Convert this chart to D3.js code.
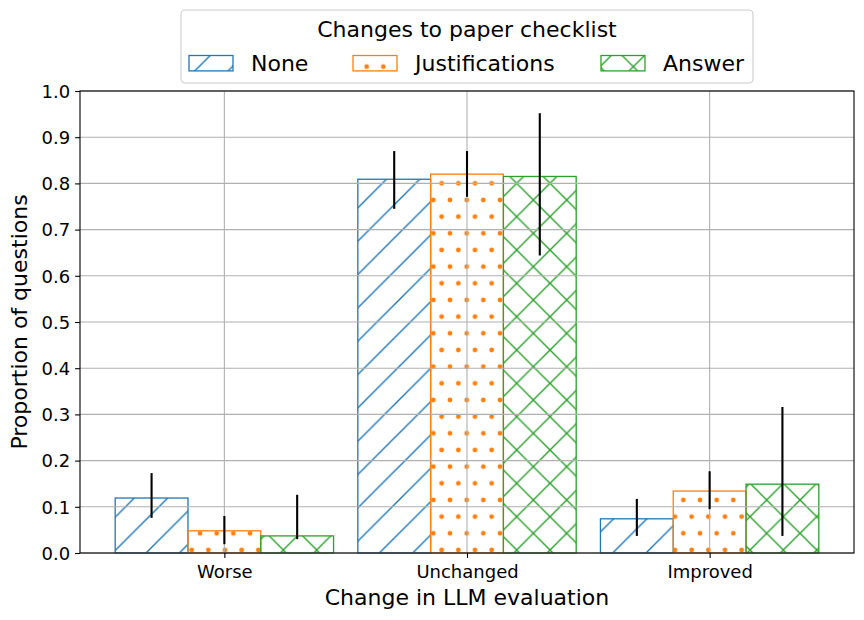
<!DOCTYPE html>
<html>
<head>
<meta charset="utf-8">
<script src="https://cdn.jsdelivr.net/npm/d3@7"></script>
<style>
  html, body { margin: 0; padding: 0; background: #fff; }
  svg { display: block; font-family: "DejaVu Sans", sans-serif; }
</style>
</head>
<body>
<svg id="chart" width="864" height="620"></svg>
<script>
// ---- data ----
const categories = ["Worse", "Unchanged", "Improved"];
const seriesNames = ["None", "Justifications", "Answer"];
const noneValues = [0.119, 0.809, 0.074];
const justificationsValues = [0.048, 0.820, 0.134];
const answerValues = [0.037, 0.815, 0.149];
const noneLow = [0.076, 0.745, 0.037];
const noneHigh = [0.173, 0.870, 0.117];
const justificationsLow = [0.019, 0.771, 0.095];
const justificationsHigh = [0.080, 0.870, 0.177];
const answerLow = [0.030, 0.644, 0.037];
const answerHigh = [0.126, 0.952, 0.316];
const yTicks = [0.0, 0.1, 0.2, 0.3, 0.4, 0.5, 0.6, 0.7, 0.8, 0.9, 1.0];
const legendTitle = "Changes to paper checklist";
const xLabel = "Change in LLM evaluation";
const yLabel = "Proportion of questions";

const series = [
  { name: seriesNames[0], values: noneValues, low: noneLow, high: noneHigh, color: "#1f77b4", pattern: "hatch-none" },
  { name: seriesNames[1], values: justificationsValues, low: justificationsLow, high: justificationsHigh, color: "#ff7f0e", pattern: "hatch-just" },
  { name: seriesNames[2], values: answerValues, low: answerLow, high: answerHigh, color: "#2ca02c", pattern: "hatch-answer" }
];

// ---- layout ----
const svg = d3.select("#chart");
const L = 80, R = 854, T = 91, B = 553;
const barW = 0.3;
const x = d3.scaleLinear().domain([-0.595, 2.595]).range([L, R]);
const y = d3.scaleLinear().domain([0, 1]).range([B, T]);

// ---- hatch patterns ----
const P = 100 / 3;
const defs = svg.append("defs");
const pN = defs.append("pattern").attr("id", "hatch-none").attr("patternUnits", "userSpaceOnUse")
  .attr("width", P).attr("height", P).attr("patternTransform", "translate(-1,0)");
[[0, P, P, 0], [-2, 2, 2, -2], [P - 2, P + 2, P + 2, P - 2]].forEach(s =>
  pN.append("line").attr("x1", s[0]).attr("y1", s[1]).attr("x2", s[2]).attr("y2", s[3])
    .attr("stroke", "#1f77b4").attr("stroke-width", 1.4));

const pA = defs.append("pattern").attr("id", "hatch-answer").attr("patternUnits", "userSpaceOnUse")
  .attr("width", P).attr("height", P);
[[0, P, P, 0], [-2, 2, 2, -2], [P - 2, P + 2, P + 2, P - 2],
 [0, 0, P, P], [-2, P - 2, 2, P + 2], [P - 2, -2, P + 2, 2]].forEach(s =>
  pA.append("line").attr("x1", s[0]).attr("y1", s[1]).attr("x2", s[2]).attr("y2", s[3])
    .attr("stroke", "#2ca02c").attr("stroke-width", 1.4));

const pJ = defs.append("pattern").attr("id", "hatch-just").attr("patternUnits", "userSpaceOnUse")
  .attr("width", P / 2).attr("height", P);
[[0, 0], [P / 2, 0], [0, P], [P / 2, P], [P / 4, P / 2]].forEach(c =>
  pJ.append("circle").attr("cx", c[0]).attr("cy", c[1]).attr("r", 2.4).attr("fill", "#ff7f0e"));

// ---- bars ----
const barsG = svg.append("g");
series.forEach((s, si) => {
  const off = (si - 1) * barW;
  barsG.selectAll(null).data(categories).enter().append("rect")
    .attr("x", (d, i) => x(i + off - barW / 2))
    .attr("y", (d, i) => y(s.values[i]))
    .attr("width", (d, i) => x(i + off + barW / 2) - x(i + off - barW / 2))
    .attr("height", (d, i) => y(0) - y(s.values[i]))
    .attr("fill", `url(#${s.pattern})`)
    .attr("stroke", s.color)
    .attr("stroke-width", 1.3);
});

// ---- grid (above bars, like matplotlib) ----
const grid = svg.append("g");
grid.selectAll(null).data(yTicks).enter().append("line")
  .attr("x1", L).attr("x2", R).attr("y1", d => y(d)).attr("y2", d => y(d))
  .attr("stroke", "#b0b0b0").attr("stroke-width", 1.1);
grid.selectAll(null).data(categories).enter().append("line")
  .attr("x1", (d, i) => x(i)).attr("x2", (d, i) => x(i)).attr("y1", T).attr("y2", B)
  .attr("stroke", "#b0b0b0").attr("stroke-width", 1.1);

// ---- error bars ----
const errG = svg.append("g");
series.forEach((s, si) => {
  const off = (si - 1) * barW;
  errG.selectAll(null).data(categories).enter().append("line")
    .attr("x1", (d, i) => x(i + off)).attr("x2", (d, i) => x(i + off))
    .attr("y1", (d, i) => y(s.low[i])).attr("y2", (d, i) => y(s.high[i]))
    .attr("stroke", "#000").attr("stroke-width", 2.1);
});

// ---- axes ----
const yAxis = d3.axisLeft(y).tickValues(yTicks).tickFormat(d3.format(".1f")).tickSize(4.9).tickPadding(4.9);
const yg = svg.append("g").attr("transform", `translate(${L},0)`).call(yAxis);
yg.select(".domain").remove();
yg.selectAll(".tick line").attr("stroke", "#000").attr("stroke-width", 1.1);
yg.selectAll(".tick text").attr("font-size", 18).attr("fill", "#000")
  .attr("font-family", "DejaVu Sans").attr("dy", "0.35em");

const xAxis = d3.axisBottom(x).tickValues([0, 1, 2]).tickFormat(i => categories[i]).tickSize(4.9).tickPadding(4.9);
const xg = svg.append("g").attr("transform", `translate(0,${B})`).call(xAxis);
xg.select(".domain").remove();
xg.selectAll(".tick line").attr("stroke", "#000").attr("stroke-width", 1.1);
xg.selectAll(".tick text").attr("font-size", 18).attr("fill", "#000")
  .attr("font-family", "DejaVu Sans").attr("dy", null).attr("y", 25);

// frame
svg.append("rect").attr("x", L).attr("y", T).attr("width", R - L).attr("height", B - T)
  .attr("fill", "none").attr("stroke", "#000").attr("stroke-width", 1.1);

// axis labels
svg.append("text").attr("x", (L + R) / 2).attr("y", 605).attr("text-anchor", "middle")
  .attr("font-size", 22).attr("fill", "#000").text(xLabel);
svg.append("text").attr("transform", `translate(27,${(T + B) / 2}) rotate(-90)`)
  .attr("text-anchor", "middle").attr("font-size", 22).attr("fill", "#000").text(yLabel);

// ---- legend ----
const lg = svg.append("g");
lg.append("rect").attr("x", 181).attr("y", 10).attr("width", 572).attr("height", 73)
  .attr("rx", 4).attr("fill", "#fff").attr("fill-opacity", 0.8)
  .attr("stroke", "#cccccc").attr("stroke-width", 1.1);
lg.append("text").attr("x", 467).attr("y", 37).attr("text-anchor", "middle")
  .attr("font-size", 22).attr("fill", "#000").text(legendTitle);
const legendX = [189, 353, 601];
series.forEach((s, si) => {
  lg.append("rect").attr("x", legendX[si]).attr("y", 55.5).attr("width", 44).attr("height", 15.4)
    .attr("fill", `url(#${s.pattern})`).attr("stroke", s.color).attr("stroke-width", 1.3);
  lg.append("text").attr("x", legendX[si] + 62).attr("y", 71).attr("font-size", 22)
    .attr("fill", "#000").text(s.name);
});
</script>
</body>
</html>
